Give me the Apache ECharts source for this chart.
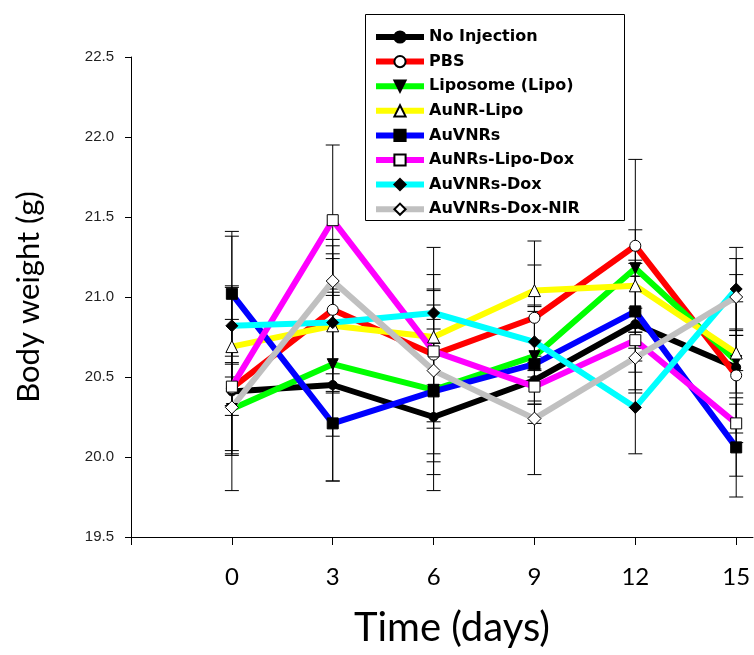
<!DOCTYPE html>
<html>
<head>
<meta charset="utf-8">
<script src="https://cdn.jsdelivr.net/npm/echarts@6/dist/echarts.min.js"></script>
<style>
  html, body { margin: 0; padding: 0; background: #fff; }
  #chart { width: 754px; height: 655px; }
</style>
</head>
<body>
<div id="chart"></div>
<script>
const days = [0, 3, 6, 9, 12, 15];
const xTicks = [-3, 0, 3, 6, 9, 12, 15];

const names = ['No Injection', 'PBS', 'Liposome (Lipo)', 'AuNR-Lipo', 'AuVNRs', 'AuNRs-Lipo-Dox', 'AuVNRs-Dox', 'AuVNRs-Dox-NIR'];

// mean body weight (g)
const noInjection = [20.41, 20.45, 20.25, 20.48, 20.83, 20.56];
const pbs = [20.43, 20.92, 20.64, 20.87, 21.32, 20.51];
const lipo = [20.30, 20.58, 20.42, 20.63, 21.18, 20.60];
const aunrLipo = [20.69, 20.82, 20.75, 21.04, 21.07, 20.65];
const auvnrs = [21.02, 20.21, 20.41, 20.58, 20.91, 20.06];
const aunrsLipoDox = [20.44, 21.48, 20.66, 20.44, 20.73, 20.21];
const auvnrsDox = [20.82, 20.84, 20.90, 20.72, 20.31, 21.05];
const auvnrsDoxNir = [20.31, 21.10, 20.54, 20.24, 20.62, 21.00];

// standard deviations
const noInjectionSd = [0.09, 0.60, 0.46, 0.15, 0.30, 0.41];
const pbsSd = [0.64, 0.40, 0.67, 0.33, 0.54, 0.63];
const lipoSd = [0.29, 0.45, 0.53, 0.28, 0.05, 0.20];
const aunrLipoSd = [0.37, 0.42, 0.30, 0.31, 0.14, 0.11];
const auvnrsSd = [0.39, 0.36, 0.39, 0.37, 0.51, 0.31];
const aunrsLipoDoxSd = [0.42, 0.47, 0.48, 0.11, 0.05, 0.12];
const auvnrsDoxSd = [0.56, 0.43, 0.14, 0.22, 0.29, 0.26];
const auvnrsDoxNirSd = [0.27, 0.26, 0.32, 0.35, 0.20, 0.24];

const means = [noInjection, pbs, lipo, aunrLipo, auvnrs, aunrsLipoDox, auvnrsDox, auvnrsDoxNir];
const sds = [noInjectionSd, pbsSd, lipoSd, aunrLipoSd, auvnrsSd, aunrsLipoDoxSd, auvnrsDoxSd, auvnrsDoxNirSd];

const lineColors = ['#000000', '#ff0000', '#00ff00', '#ffff00', '#0000ff', '#ff00ff', '#00ffff', '#c0c0c0'];
const symbols = ['circle', 'circle', 'triangle', 'triangle', 'rect', 'rect', 'diamond', 'diamond'];
const symbolRotates = [0, 0, 180, 0, 0, 0, 0, 0];
const fills = ['#000', '#fff', '#000', '#fff', '#000', '#fff', '#000', '#fff'];
const symbolSizes = [9, 11, 11, 12, 11, 11, 12, 13];

const chart = echarts.init(document.getElementById('chart'));

// error bars drawn with the axis scales
const errorSeries = means.map((m, i) => ({
  type: 'custom',
  z: 1,
  silent: true,
  data: days.map((d, k) => [d, m[k] - sds[i][k], m[k] + sds[i][k]]),
  renderItem: (params, api) => {
    const lo = api.coord([api.value(0), api.value(1)]);
    const hi = api.coord([api.value(0), api.value(2)]);
    const w = 7;
    const st = { stroke: '#000', lineWidth: 1 };
    return {
      type: 'group',
      children: [
        { type: 'line', shape: { x1: lo[0], y1: lo[1], x2: hi[0], y2: hi[1] }, style: st },
        { type: 'line', shape: { x1: lo[0] - w, y1: lo[1], x2: lo[0] + w, y2: lo[1] }, style: st },
        { type: 'line', shape: { x1: hi[0] - w, y1: hi[1], x2: hi[0] + w, y2: hi[1] }, style: st },
      ],
    };
  },
}));

const lineSeries = means.map((m, i) => ({
  name: names[i],
  type: 'line',
  z: 2,
  data: days.map((d, k) => [d, m[k]]),
  symbol: symbols[i],
  symbolRotate: symbolRotates[i],
  symbolSize: symbolSizes[i],
  showAllSymbol: true,
  lineStyle: { color: lineColors[i], width: 6 },
  itemStyle: { color: fills[i], borderColor: '#000', borderWidth: 1 },
  emphasis: { disabled: true },
}));

const option = {
  animation: false,
  backgroundColor: '#fff',
  grid: { left: 131, right: 1, top: 57, bottom: 118, outerBoundsMode: 'none' },
  legend: {
    data: names,
    orient: 'vertical',
    left: 368,
    top: 24,
    itemWidth: 48,
    itemHeight: 14,
    itemGap: 8.6,
    selectedMode: false,
    lineStyle: { width: 6 },
    textStyle: { color: '#000', fontFamily: 'DejaVu Sans', fontWeight: 'bold', fontSize: 16, lineHeight: 14 },
  },
  graphic: [
    {
      type: 'rect',
      left: 363,
      top: 12,
      shape: { width: 259, height: 206 },
      style: { fill: 'none', stroke: '#000', lineWidth: 1 },
      z: 0,
    },
  ],
  xAxis: {
    type: 'value',
    min: -3,
    max: 15.5,
    name: 'Time (days)',
    nameLocation: 'middle',
    nameGap: 71,
    nameTextStyle: { fontFamily: 'Lato', fontSize: 40, color: '#000', padding: [0, 0, 0, 20] },
    splitLine: { show: false },
    axisLine: { show: true, onZero: false, lineStyle: { color: '#000', width: 1 } },
    axisTick: { show: true, length: 8, customValues: xTicks, lineStyle: { color: '#000' } },
    axisLabel: { customValues: days, margin: 28, fontFamily: 'Lato', fontSize: 24, color: '#000' },
  },
  yAxis: {
    type: 'value',
    min: 19.5,
    max: 22.5,
    interval: 0.5,
    name: 'Body weight (g)',
    nameLocation: 'middle',
    nameGap: 87,
    nameTextStyle: { fontFamily: 'Lato', fontSize: 31, color: '#000' },
    splitLine: { show: false },
    axisLine: { show: true, onZero: false, lineStyle: { color: '#000', width: 1 } },
    axisTick: { show: true, length: 6, lineStyle: { color: '#000' } },
    axisLabel: {
      margin: 17,
      fontFamily: 'Liberation Sans, Arial',
      fontSize: 15,
      color: '#222',
      formatter: (v) => v.toFixed(1),
    },
  },
  series: [...errorSeries, ...lineSeries],
};

chart.setOption(option);
</script>
</body>
</html>
